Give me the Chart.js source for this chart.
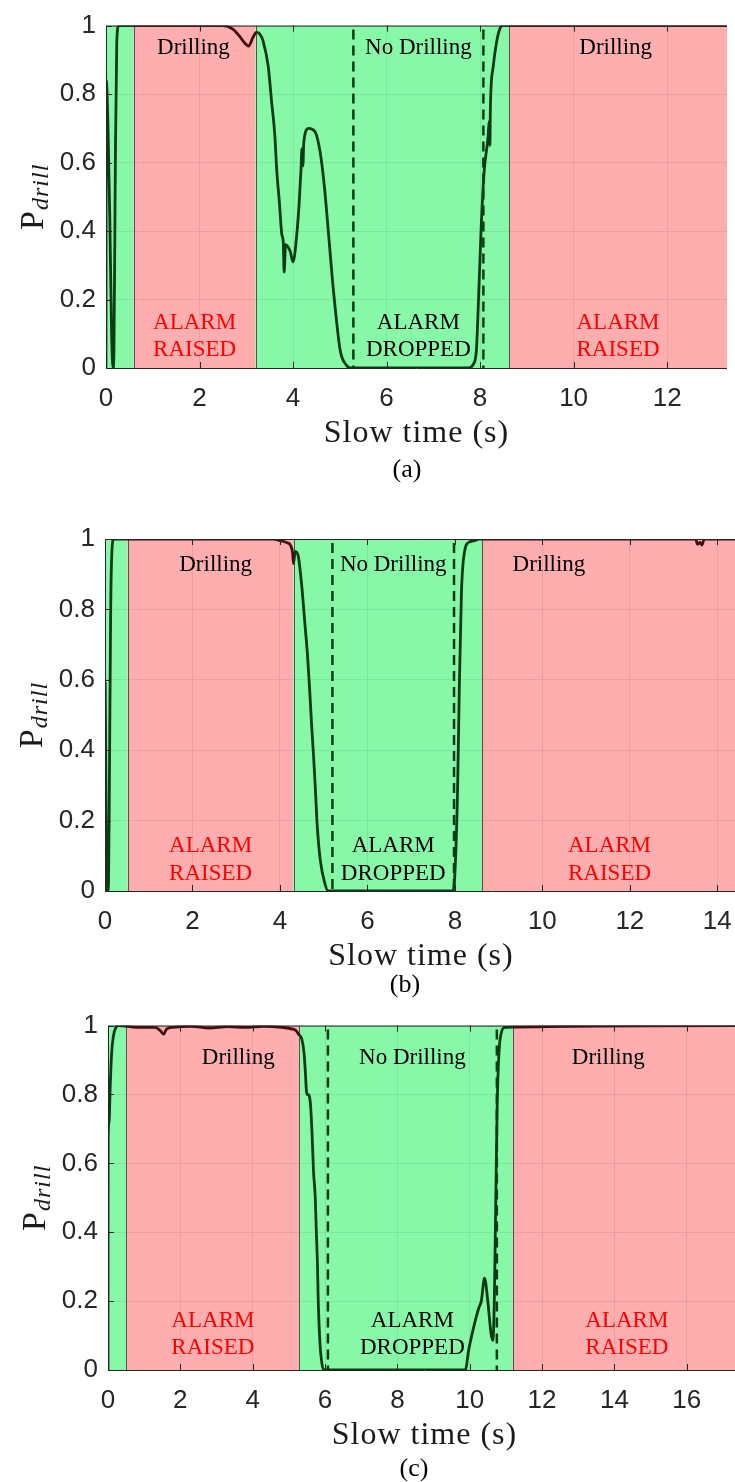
<!DOCTYPE html>
<html>
<head>
<meta charset="utf-8">
<script src="https://cdn.jsdelivr.net/npm/chart.js@4.4.1/dist/chart.umd.min.js"></script>
<style>
  html, body { margin: 0; padding: 0; background: #fff; overflow: hidden; }
  #wrap { position: relative; width: 735px; height: 1482px; overflow: hidden; background: #fff; }
  #wrap canvas { position: absolute; left: 0; }
</style>
</head>
<body>
<div id="wrap">
  <canvas id="panelA" width="760" height="490" style="top:0px"></canvas>
  <canvas id="panelB" width="760" height="510" style="top:490px"></canvas>
  <canvas id="panelC" width="760" height="482" style="top:1000px"></canvas>
</div>
<script>
// ---- Run (a) ----
const timeA = [0,0.005,0.04,0.08,0.12,0.15,0.17,0.2,0.23,0.27,2.5,2.71,2.85,2.96,3.05,3.14,3.22,3.29,3.36,3.47,3.54,3.61,3.65,3.71,3.76,3.79,3.81,3.84,3.94,4.0,4.08,4.13,4.17,4.19,4.21,4.23,4.33,4.47,4.58,4.67,4.76,4.85,4.92,5.01,5.13,5.23,7.75,7.85,7.92,7.95,8.02,8.09,8.16,8.2,8.21,8.22,8.28,8.35,8.42,8.47,13.28];
const probA = [0,0.84,0.72,0.45,0.1,0,0.05,0.6,0.95,1,1,0.99,0.97,0.95,0.94,0.965,0.98,0.975,0.955,0.88,0.78,0.68,0.58,0.48,0.39,0.37,0.28,0.36,0.34,0.31,0.39,0.48,0.58,0.64,0.59,0.66,0.70,0.69,0.63,0.53,0.39,0.245,0.15,0.05,0.01,0,0,0.01,0.05,0.14,0.4,0.58,0.66,0.72,0.65,0.76,0.88,0.95,0.99,1,1];
const zonesA = [0, 0.59, 3.2, 8.62, 13.28];      // alternating: no drilling / drilling
const cuesA = [5.29, 8.07];                      // dashed event markers
const xTicksA = [0, 2, 4, 6, 8, 10, 12];
const xTickLabelsA = ['0', '2', '4', '6', '8', '10', '12'];

// ---- Run (b) ----
const timeB = [0,0.005,0.02,0.04,0.06,0.08,0.1,0.13,0.16,0.2,3.85,4.0,4.15,4.25,4.29,4.31,4.35,4.42,4.5,4.57,4.63,4.68,4.72,4.77,4.81,4.85,4.92,5.03,5.1,7.96,8.0,8.06,8.1,8.15,8.23,8.31,8.45,8.55,13.5,13.55,13.6,13.65,13.7,14.45];
const probB = [0,0.59,0.3,0.02,0,0.02,0.3,0.8,0.97,1,1,0.995,0.99,0.98,0.96,0.93,0.965,0.95,0.865,0.76,0.67,0.57,0.48,0.38,0.29,0.19,0.09,0.02,0,0,0.05,0.28,0.57,0.85,0.97,0.99,0.995,1,1,0.985,0.99,0.983,1,1];
const zonesB = [0, 0.52, 4.31, 8.62, 14.45];
const cuesB = [5.2, 7.98];
const xTicksB = [0, 2, 4, 6, 8, 10, 12, 14];
const xTickLabelsB = ['0', '2', '4', '6', '8', '10', '12', '14'];

// ---- Run (c) ----
const timeC = [0,0.005,0.03,0.06,0.1,0.15,0.22,0.3,0.8,1.3,1.45,1.54,1.62,1.8,2.3,2.8,3.3,3.8,4.3,4.8,5.1,5.2,5.27,5.36,5.42,5.45,5.5,5.53,5.59,5.64,5.68,5.73,5.76,5.79,5.81,5.84,5.88,5.96,9.88,9.97,10.1,10.25,10.32,10.41,10.5,10.59,10.64,10.68,10.72,10.76,10.84,10.98,17.5];
const probC = [0,0.67,0.72,0.82,0.92,0.97,0.995,1,0.995,0.995,0.985,0.975,0.99,0.995,0.998,0.993,0.997,0.995,0.998,0.995,0.99,0.985,0.975,0.96,0.92,0.876,0.80,0.80,0.78,0.69,0.58,0.50,0.40,0.31,0.21,0.12,0.05,0,0,0.057,0.12,0.18,0.2,0.267,0.2,0.105,0.086,0.2,0.486,0.77,0.96,0.995,1];
const zonesC = [0, 0.51, 5.29, 11.19, 17.5];
const cuesC = [6.08, 10.75];
const xTicksC = [0, 2, 4, 6, 8, 10, 12, 14, 16];
const xTickLabelsC = ['0', '2', '4', '6', '8', '10', '12', '14', '16'];

// ---- shared axis values ----
const yTicks = [0, 0.2, 0.4, 0.6, 0.8, 1];
const yTickLabels = ['0', '0.2', '0.4', '0.6', '0.8', '1'];
const stateLabels = ['Drilling', 'No Drilling'];
const alarmLabels = [['ALARM', 'RAISED'], ['ALARM', 'DROPPED']];

// ---- styling ----
const FILL_QUIET = '#87f8a8';
const FILL_DRILL = '#feaeae';
const LINE_QUIET = '#0b3c14';
const LINE_DRILL = '#450c0c';
const AXIS = '#262626';
const SERIF = '"Liberation Serif", "Times New Roman", serif';
const SANS = '"Liberation Sans", Arial, Helvetica, sans-serif';

// colour the probability trace by the zone it passes through
function zoneGradient(chart, zones) {
  const a = chart.chartArea;
  if (!a) return LINE_QUIET;
  const x = chart.scales.x;
  const g = chart.ctx.createLinearGradient(a.left, 0, a.right, 0);
  const w = a.right - a.left;
  g.addColorStop(0, LINE_QUIET);
  for (let i = 1; i < zones.length - 1; i++) {
    const f = Math.min(1, Math.max(0, (x.getPixelForValue(zones[i]) - a.left) / w));
    g.addColorStop(f, i % 2 === 1 ? LINE_QUIET : LINE_DRILL);
    g.addColorStop(f, i % 2 === 1 ? LINE_DRILL : LINE_QUIET);
  }
  g.addColorStop(1, (zones.length - 2) % 2 === 0 ? LINE_QUIET : LINE_DRILL);
  return g;
}

const decor = {
  id: 'decor',
  beforeDraw(chart, args, o) {
    const { ctx, chartArea: a, scales: { x } } = chart;
    ctx.save();
    for (let i = 0; i < o.zones.length - 1; i++) {
      const x0 = x.getPixelForValue(o.zones[i]);
      const x1 = x.getPixelForValue(o.zones[i + 1]);
      ctx.fillStyle = i % 2 === 0 ? FILL_QUIET : FILL_DRILL;
      ctx.fillRect(x0, a.top, x1 - x0, a.bottom - a.top);
    }
    ctx.restore();
  },
  beforeDatasetsDraw(chart, args, o) {
    const { ctx, chartArea: a, scales: { x, y } } = chart;
    ctx.save();
    // zone edges
    ctx.strokeStyle = 'rgba(40,40,40,0.75)';
    ctx.lineWidth = 1;
    for (let i = 1; i < o.zones.length - 1; i++) {
      const px = Math.round(x.getPixelForValue(o.zones[i])) + 0.5;
      ctx.beginPath(); ctx.moveTo(px, a.top); ctx.lineTo(px, a.bottom); ctx.stroke();
    }
    // dashed event markers
    ctx.strokeStyle = LINE_QUIET;
    ctx.lineWidth = 2.5;
    ctx.setLineDash([10, 6]);
    o.cues.forEach(v => {
      const px = x.getPixelForValue(v);
      ctx.beginPath(); ctx.moveTo(px, y.getPixelForValue(1) + 4); ctx.lineTo(px, y.getPixelForValue(0)); ctx.stroke();
    });
    ctx.restore();
  },
  afterDraw(chart, args, o) {
    const { ctx, chartArea: a, scales: { x, y } } = chart;
    ctx.save();
    // axes box and inward tick marks
    ctx.strokeStyle = AXIS;
    ctx.lineWidth = 1;
    ctx.beginPath();
    ctx.moveTo(a.left + 0.5, a.bottom + 0.5); ctx.lineTo(a.left + 0.5, a.top + 0.5);
    ctx.lineTo(a.right, a.top + 0.5);
    ctx.moveTo(a.left, a.bottom + 0.5); ctx.lineTo(a.right, a.bottom + 0.5);
    ctx.stroke();
    ctx.beginPath();
    o.xTicks.forEach(v => {
      const px = Math.round(x.getPixelForValue(v)) + 0.5;
      ctx.moveTo(px, a.bottom); ctx.lineTo(px, a.bottom - 6);
      ctx.moveTo(px, a.top); ctx.lineTo(px, a.top + 6);
    });
    yTicks.forEach(v => {
      const py = Math.round(y.getPixelForValue(v)) + 0.5;
      ctx.moveTo(a.left, py); ctx.lineTo(a.left + 6, py);
    });
    ctx.stroke();

    // zone annotations
    ctx.font = '23px ' + SERIF;
    ctx.textAlign = 'center';
    ctx.textBaseline = 'alphabetic';
    const z = o.zones;
    for (let i = 0; i < z.length - 1; i++) {
      const drilling = i % 2 === 1;
      if (!drilling && i === 0) continue;
      const mid = drilling ? (z[i] + z[i + 1]) / 2 : (o.cues[0] + o.cues[1]) / 2;
      const k = Math.floor(i / 2);
      const stateX = drilling ? o.drillingAt[k] : mid;
      ctx.fillStyle = '#000';
      ctx.fillText(drilling ? stateLabels[0] : stateLabels[1], x.getPixelForValue(stateX), y.getPixelForValue(o.stateBase));
      ctx.fillStyle = drilling ? '#ff0000' : '#000';
      const lines = drilling ? alarmLabels[0] : alarmLabels[1];
      ctx.fillText(lines[0], x.getPixelForValue(mid), y.getPixelForValue(o.alarmBase[0]));
      ctx.fillText(lines[1], x.getPixelForValue(mid), y.getPixelForValue(o.alarmBase[1]));
    }

    // x-axis title
    ctx.fillStyle = '#1a1a1a';
    ctx.font = '32px ' + SERIF;
    ctx.letterSpacing = '1px';
    ctx.fillText('Slow time (s)', (a.left + a.right) / 2, a.bottom + 74);
    ctx.letterSpacing = '0px';

    // panel caption
    ctx.font = '26px ' + SERIF;
    ctx.fillStyle = '#000';
    ctx.fillText(o.caption, o.captionX, a.bottom + o.captionDy);

    // y-axis title with subscript
    ctx.translate(a.left - 63, (a.top + a.bottom) / 2);
    ctx.rotate(-Math.PI / 2);
    ctx.textAlign = 'left';
    ctx.fillStyle = '#1a1a1a';
    ctx.font = '34px ' + SERIF;
    const wP = ctx.measureText('P').width;
    ctx.font = 'italic 24px ' + SERIF;
    ctx.letterSpacing = '1px';
    const wd = ctx.measureText('drill').width;
    const s = -(wP + wd + 1) / 2;
    ctx.fillText('drill', s + wP + 1, 5);
    ctx.letterSpacing = '0px';
    ctx.font = '34px ' + SERIF;
    ctx.fillText('P', s, 0);
    ctx.restore();
  }
};

function makePanel(id, time, prob, zones, cues, xTicks, xTickLabels, layout, notes) {
  const xmax = zones[zones.length - 1];
  return new Chart(document.getElementById(id), {
    type: 'line',
    data: {
      datasets: [{
        data: time.map((t, i) => ({ x: t, y: prob[i] })),
        borderColor: ctx => zoneGradient(ctx.chart, zones),
        borderWidth: 2.8,
        pointRadius: 0,
        cubicInterpolationMode: 'monotone',
        fill: false
      }]
    },
    options: {
      responsive: false,
      animation: false,
      events: [],
      layout: { padding: { top: layout.top, right: layout.right, bottom: 0, left: 0 } },
      plugins: {
        legend: { display: false },
        tooltip: { enabled: false },
        decor: Object.assign({ zones, cues, xTicks }, notes)
      },
      scales: {
        x: {
          type: 'linear', min: 0, max: xmax,
          afterBuildTicks: s => { s.ticks = xTicks.map(v => ({ value: v })); },
          afterFit: s => { s.height = layout.xAxisH; },
          grid: { color: 'rgba(0,0,0,0.07)', lineWidth: 1, drawTicks: false },
          border: { display: false },
          ticks: {
            padding: 15, color: AXIS, maxRotation: 0, autoSkip: false,
            font: { family: SANS, size: 26 },
            callback: (v, i) => xTickLabels[i]
          }
        },
        y: {
          min: 0, max: 1,
          afterBuildTicks: s => { s.ticks = yTicks.map(v => ({ value: v })); },
          afterFit: s => { s.width = layout.yAxisW; },
          grid: { color: 'rgba(0,0,0,0.07)', lineWidth: 1, drawTicks: false },
          border: { display: false },
          ticks: {
            padding: 10, color: AXIS,
            font: { family: SANS, size: 26 },
            callback: (v, i) => yTickLabels[i]
          }
        }
      }
    },
    plugins: [decor]
  });
}

makePanel('panelA', timeA, probA, zonesA, cuesA, xTicksA, xTickLabelsA,
  { top: 23, right: 33, xAxisH: 122, yAxisW: 106 },
  { drillingAt: [1.87, 10.9], stateBase: 0.916, alarmBase: [0.115, 0.035], caption: '(a)', captionX: 407, captionDy: 109 });

makePanel('panelB', timeB, probB, zonesB, cuesB, xTicksB, xTickLabelsB,
  { top: 49, right: 23, xAxisH: 109, yAxisW: 105 },
  { drillingAt: [2.53, 10.15], stateBase: 0.908, alarmBase: [0.111, 0.030], caption: '(b)', captionX: 405, captionDy: 101 });

makePanel('panelC', timeC, probC, zonesC, cuesC, xTicksC, xTickLabelsC,
  { top: 20, right: 19, xAxisH: 112, yAxisW: 108 },
  { drillingAt: [3.6, 13.83], stateBase: 0.889, alarmBase: [0.126, 0.046], caption: '(c)', captionX: 414, captionDy: 106 });
</script>
</body>
</html>
